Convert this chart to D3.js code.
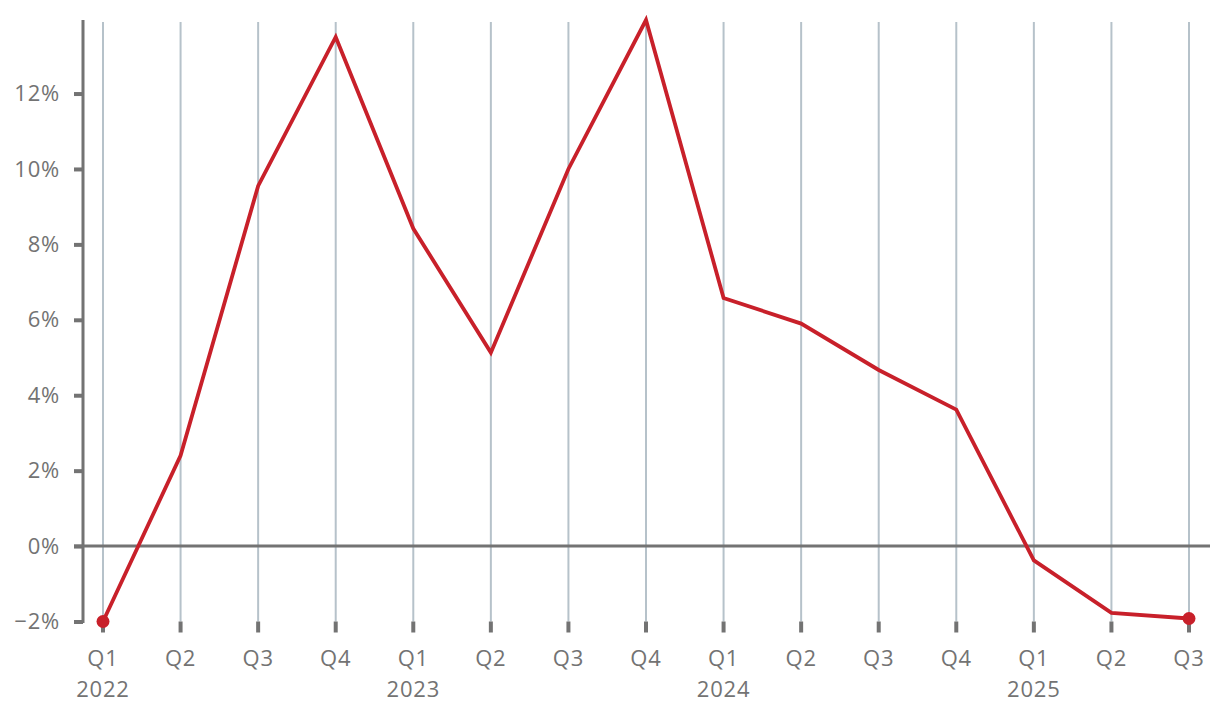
<!DOCTYPE html>
<html><head><meta charset="utf-8">
<script src="https://cdn.jsdelivr.net/npm/d3@7"></script>
<style>
body{margin:0;background:#fff;}
text{font-family:"Open Sans",Lato,sans-serif;fill:#737373;letter-spacing:0.8px;}
</style></head>
<body><svg id="c" width="1220" height="712"></svg>
<script>
const quarters = ["Q1","Q2","Q3","Q4","Q1","Q2","Q3","Q4","Q1","Q2","Q3","Q4","Q1","Q2","Q3"];
const years = ["2022","","","","2023","","","","2024","","","","2025","",""];
const values = [-2.0, 2.4, 9.55, 13.5, 8.42, 5.13, 10.0, 13.95, 6.58, 5.9, 4.67, 3.62, -0.38, -1.77, -1.92];
const yTicks = [-2, 0, 2, 4, 6, 8, 10, 12];

const svg = d3.select("#c");
const idx = d3.range(values.length);
const x = d3.scaleLinear().domain([0, values.length - 1]).range([103, 1189]);
const y = d3.scaleLinear().domain([-2, d3.max(values)]).range([621.5, 20]);

const grey = "#737373";

svg.append("g").selectAll("line").data(idx).join("line")
  .attr("x1", d => x(d)).attr("x2", d => x(d))
  .attr("y1", 22).attr("y2", y(-2))
  .attr("stroke", "#b6c2ca").attr("stroke-width", 2);

svg.append("g").selectAll("line").data(idx).join("line")
  .attr("x1", d => x(d)).attr("x2", d => x(d))
  .attr("y1", y(-2)).attr("y2", y(-2) + 11)
  .attr("stroke", grey).attr("stroke-width", 4);

const yAxis = d3.axisLeft(y).tickValues(yTicks).tickSize(9).tickPadding(14)
  .tickFormat(d => (d < 0 ? "\u2212" + Math.abs(d) : d) + "%");
const ga = svg.append("g").attr("transform", "translate(83,0)").call(yAxis);
ga.select(".domain").remove();
ga.selectAll(".tick line").attr("stroke", grey).attr("stroke-width", 4);
ga.selectAll(".tick text").style("font-size", "22px").attr("fill", grey);
svg.append("line").attr("x1", 83).attr("x2", 83).attr("y1", 20).attr("y2", y(-2) + 1.5)
  .attr("stroke", grey).attr("stroke-width", 3);

svg.append("line").attr("x1", 74).attr("x2", 1210).attr("y1", y(0)).attr("y2", y(0))
  .attr("stroke", grey).attr("stroke-width", 3);

const xl = svg.append("g");
xl.selectAll("text.q").data(idx).join("text").attr("class", "q")
  .attr("x", d => x(d)).attr("y", 666).attr("text-anchor", "middle")
  .style("font-size", "22px").text(d => quarters[d]);
xl.selectAll("text.yr").data(idx.filter(d => years[d])).join("text").attr("class", "yr")
  .attr("x", d => x(d)).attr("y", 697).attr("text-anchor", "middle")
  .style("font-size", "22px").text(d => years[d]);

const line = d3.line().x((d, i) => x(i)).y(d => y(d));
svg.append("path").datum(values).attr("d", line)
  .attr("fill", "none").attr("stroke", "#c8202a").attr("stroke-width", 3.8)
  .attr("stroke-linejoin", "miter");

svg.append("g").selectAll("circle").data([0, values.length - 1]).join("circle")
  .attr("cx", d => x(d)).attr("cy", d => y(values[d])).attr("r", 6.5)
  .attr("fill", "#c8202a");
</script></body></html>
